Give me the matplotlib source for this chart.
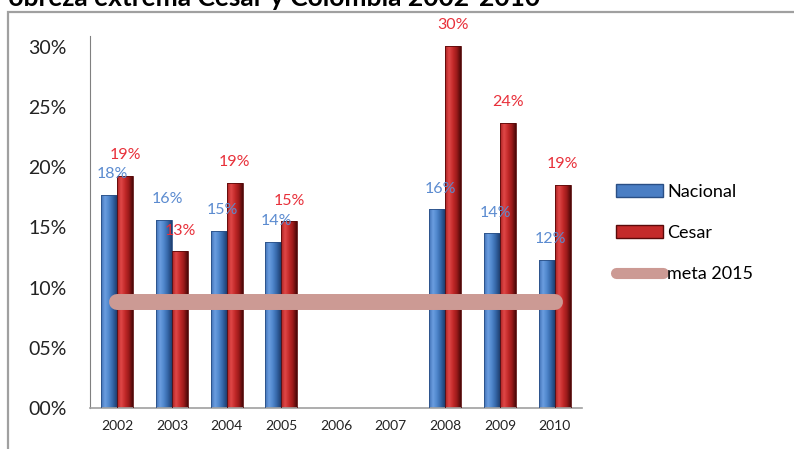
import numpy as np
import matplotlib.pyplot as plt
from matplotlib.patches import Rectangle
from matplotlib.lines import Line2D
from matplotlib.colors import LinearSegmentedColormap

plt.rcParams['font.family'] = ['Lato', 'DejaVu Sans']

# data (percent); 2006 and 2007 have no values
years = ['2002', '2003', '2004', '2005', '2006', '2007', '2008', '2009', '2010']
nacional = [17.7, 15.6, 14.7, 13.8, np.nan, np.nan, 16.5, 14.5, 12.3]
cesar = [19.3, 13.0, 18.7, 15.5, np.nan, np.nan, 30.1, 23.7, 18.5]
nacional_labels = ['18%', '16%', '15%', '14%', '', '', '16%', '14%', '12%']
cesar_labels = ['19%', '13%', '19%', '15%', '', '', '30%', '24%', '19%']
meta_2015 = 8.8
yticks = [0, 5, 10, 15, 20, 25, 30]

fig = plt.figure(figsize=(7.94, 4.49), dpi=100)
ax = fig.add_axes([90 / 794, 1 - 408 / 449, 492 / 794, 372 / 449])

x = np.arange(len(years))
w = 0.29

blue_cmap = LinearSegmentedColormap.from_list('b', ['#3f70b4', '#6b9ee0', '#4f86cc', '#3465a6', '#1f3f70'])
red_cmap = LinearSegmentedColormap.from_list('r', ['#a82020', '#e04848', '#c42a2a', '#9a1a1a', '#4a0808'])
grad = np.linspace(0, 1, 64).reshape(1, -1)


def shaded_bars(xpos, vals, cmap, edge):
    bars = ax.bar(xpos, vals, w, color='none', edgecolor='none', zorder=2)
    for b in bars:
        h = b.get_height()
        if not np.isfinite(h):
            continue
        x0 = b.get_x()
        im = ax.imshow(grad, cmap=cmap, extent=(x0, x0 + b.get_width(), 0, h),
                       aspect='auto', zorder=2, interpolation='bilinear')
        im.set_clip_path(b)
        ax.add_patch(Rectangle((x0, 0), b.get_width(), h, fill=False,
                               edgecolor=edge, lw=0.6, zorder=3))
    return bars


nb = shaded_bars(x - w / 2, nacional, blue_cmap, '#2a4f85')
cb = shaded_bars(x + w / 2, cesar, red_cmap, '#5a0a0a')

for b, lab in zip(nb, nacional_labels):
    if lab:
        ax.annotate(lab, (b.get_x() + b.get_width() / 2 + 0.06, b.get_height()),
                    xytext=(0, 15), textcoords='offset points', ha='center', va='center',
                    color='#5b8bd0', fontsize=11.5, zorder=5)
for b, lab in zip(cb, cesar_labels):
    if lab:
        ax.annotate(lab, (b.get_x() + b.get_width() / 2, b.get_height()),
                    xytext=(0, 15), textcoords='offset points', ha='center', va='center',
                    color='#e8303a', fontsize=11.5, zorder=5)

# meta 2015 is a flat line series from the first to the last year
ax.plot([x[0], x[-1]], [meta_2015, meta_2015], color='#cc9a94', lw=11.5,
        solid_capstyle='round', zorder=4)

ax.set_xlim(-0.5, len(years) - 0.5)
ax.set_ylim(0, 30.9)
ax.set_xticks(x)
ax.set_xticklabels(years, fontsize=10, color='#222222')
ax.set_yticks(yticks)
ax.set_yticklabels([f'{v:02d}%' for v in yticks], fontsize=14, color='#222222')
ax.tick_params(axis='y', length=0, pad=17)
ax.tick_params(axis='x', length=0, pad=9)
for s in ['top', 'right']:
    ax.spines[s].set_visible(False)
ax.spines['left'].set_color('#808080')
ax.spines['bottom'].set_color('#a0a0a0')
ax.spines['bottom'].set_linewidth(1.2)
ax.set_facecolor('none')

handles = [Rectangle((0, 0), 1, 1, facecolor='#4a7ec4', edgecolor='#2a4f85'),
           Rectangle((0, 0), 1, 1, facecolor='#c42a2a', edgecolor='#5a0a0a'),
           Line2D([], [], color='#cc9a94', lw=8, solid_capstyle='round')]
fig.legend(handles, ['Nacional', 'Cesar', 'meta 2015'], loc='center left',
           bbox_to_anchor=(616 / 794, 1 - 233 / 449), frameon=False, fontsize=13,
           handlelength=2.6, handleheight=0.7, handletextpad=0.25, labelspacing=1.4,
           borderpad=0, borderaxespad=0)

# outer frame, partly off the image like the screenshot
fig.add_artist(Rectangle((8 / 794, -0.1), 1.2, 1.1 - 12 / 449, transform=fig.transFigure,
                         fill=False, edgecolor='#a0a0a0', lw=1.6))

fig.text(540 / 794, 1 - 6 / 449, 'Pobreza extrema Cesar y Colombia 2002-2010',
         ha='right', va='baseline', fontsize=19, fontweight='bold', color='black')

fig.savefig('out.png', dpi=100)
